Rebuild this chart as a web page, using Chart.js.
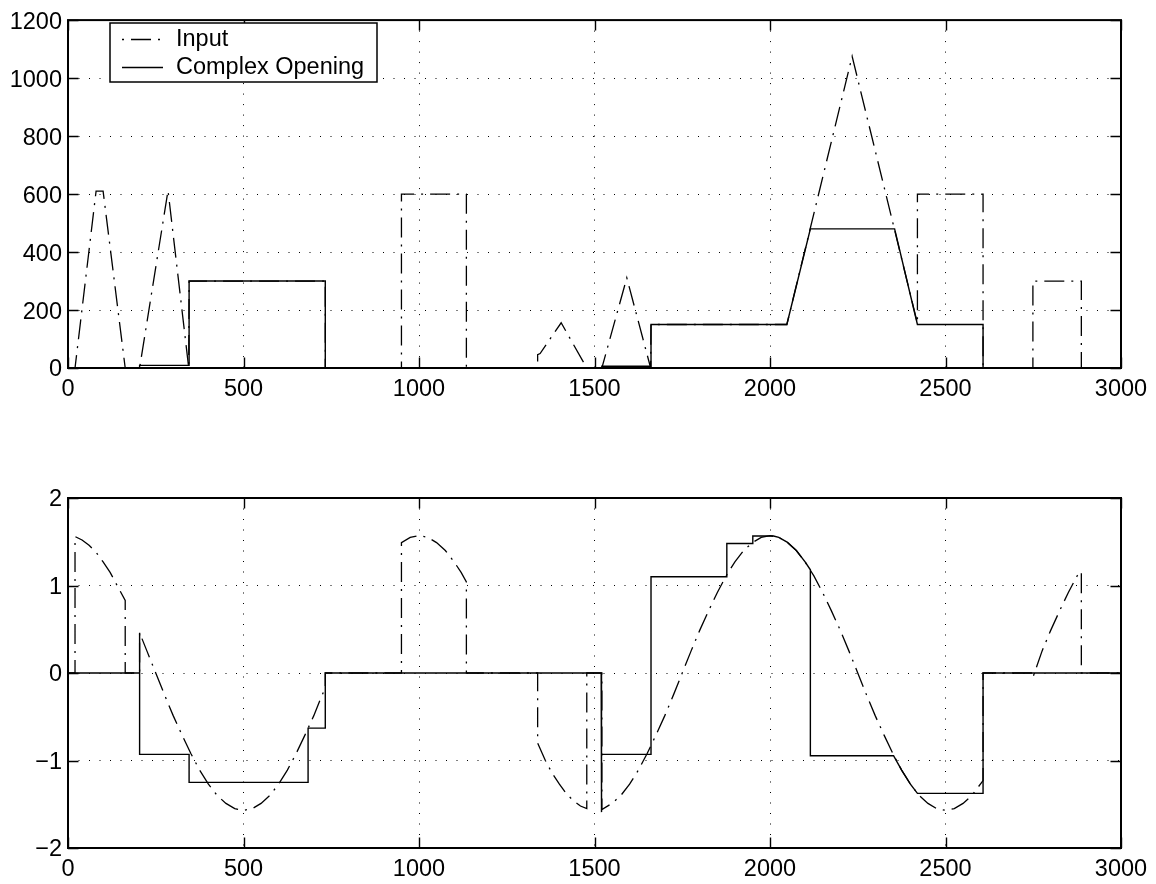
<!DOCTYPE html>
<html>
<head>
<meta charset="utf-8">
<script src="https://cdn.jsdelivr.net/npm/chart.js@4.4.1/dist/chart.umd.min.js"></script>
<style>
  html, body { margin: 0; padding: 0; background: #fff; }
  #wrap { position: relative; width: 1156px; height: 884px; }
  .panel { position: absolute; left: 0; width: 1156px; height: 442px; }
</style>
</head>
<body>
<div id="wrap">
  <div class="panel" style="top:0"><canvas id="magnitude" width="1156" height="442"></canvas></div>
  <div class="panel" style="top:442px"><canvas id="phase" width="1156" height="442"></canvas></div>
</div>
<script>
// ---- tick values ----
const xTicks = [0, 500, 1000, 1500, 2000, 2500, 3000];
const magnitudeTicks = [0, 200, 400, 600, 800, 1000, 1200];
const phaseTicks = [-2, -1, 0, 1, 2];
const seriesNames = ['Input', 'Complex Opening'];

// ---- upper panel: magnitude ----
const magInputX = [0, 20, 80, 100, 163, 204, 285, 344, 345, 733, 733, 950, 950, 1135, 1135,
  1338, 1338, 1345, 1405, 1478, 1521, 1592, 1660, 1661, 2048, 2234, 2420, 2420, 2607, 2607,
  2749, 2749, 2887, 2887, 3000];
const magInputY = [0, 0, 610, 610, 0, 0, 612, 0, 300, 300, 0, 0, 600, 600, 0,
  0, 46, 50, 156, 0, 0, 311, 0, 150, 150, 1075, 154, 600, 600, 0,
  0, 300, 300, 0, 0];

const magOpenX = [0, 204, 204, 345, 345, 733, 733, 1519, 1521, 1661, 1661, 2048, 2115, 2355, 2420, 2607, 2607, 3000];
const magOpenY = [0, 0, 9, 9, 300, 300, 0, 0, 6, 6, 150, 150, 480, 480, 150, 150, 0, 0];

// ---- lower panel: phase ----
const phaseInputX = [0, 20, 20, 40, 60, 80, 100, 120, 140, 163, 163,
  204, 204, 225, 250, 275, 300, 325, 350, 375, 400, 425, 450, 475, 500, 525, 550, 575, 600, 625, 650, 675, 700, 720, 733, 733,
  950, 950, 975, 1000, 1025, 1050, 1075, 1100, 1120, 1135, 1135,
  1338, 1338, 1360, 1380, 1400, 1420, 1440, 1460, 1478, 1478,
  1521, 1521, 1550, 1575, 1600, 1625, 1650, 1675, 1700, 1725, 1750, 1775, 1800, 1825, 1850, 1875, 1900, 1925, 1950, 1975,
  2000, 2025, 2050, 2075, 2100, 2125, 2150, 2175, 2200, 2225, 2250, 2275, 2300, 2325, 2350, 2375, 2400, 2425, 2450, 2475,
  2500, 2525, 2550, 2575, 2607, 2607,
  2749, 2749, 2775, 2800, 2825, 2850, 2875, 2887, 2887, 3000];
const phaseInputY = [0, 0, 1.56, 1.52, 1.46, 1.38, 1.27, 1.15, 1.0, 0.83, 0,
  0, 0.46, 0.25, 0, -0.25, -0.49, -0.71, -0.92, -1.11, -1.27, -1.4, -1.49, -1.55, -1.57, -1.55, -1.49, -1.4, -1.27, -1.11, -0.92, -0.71, -0.49, -0.29, -0.17, 0,
  0, 1.49, 1.55, 1.57, 1.55, 1.49, 1.4, 1.27, 1.15, 1.04, 0,
  0, -0.8, -1.0, -1.15, -1.27, -1.38, -1.46, -1.52, -1.55, 0,
  0, -1.56, -1.49, -1.4, -1.27, -1.11, -0.92, -0.71, -0.49, -0.25, 0, 0.25, 0.49, 0.71, 0.92, 1.11, 1.27, 1.4, 1.49, 1.55,
  1.57, 1.55, 1.49, 1.4, 1.27, 1.11, 0.92, 0.71, 0.49, 0.25, 0, -0.25, -0.49, -0.71, -0.92, -1.11, -1.27, -1.4, -1.49, -1.55,
  -1.57, -1.55, -1.49, -1.4, -1.23, 0,
  0, -0.05, 0.25, 0.49, 0.71, 0.92, 1.11, 1.16, 0, 0];

const phaseOpenX = [0, 204, 204, 204, 345, 345, 684, 684, 733, 733, 1519, 1519, 1521, 1661, 1661, 1877, 1877,
  1951, 1951, 2010, 2025, 2050, 2075, 2100, 2115, 2115, 2352, 2375, 2400, 2420, 2607, 2607, 3000];
const phaseOpenY = [0, 0, 0.46, -0.93, -0.93, -1.25, -1.25, -0.63, -0.63, 0, 0, -1.59, -0.93, -0.93, 1.1, 1.1, 1.48,
  1.48, 1.566, 1.566, 1.551, 1.493, 1.399, 1.27, 1.18, -0.945, -0.945, -1.11, -1.27, -1.376, -1.376, 0, 0];

// ---- drawing ----
const FONT = { family: "'Liberation Sans', Arial, Helvetica, sans-serif", size: 23.5 };
const PANEL_W = 1156, PANEL_H = 442;
const PLOT_LEFT = 68, PLOT_RIGHT = 1121;
const DASH_DOT = [20, 7, 2, 7];

function points(xs, ys) {
  return xs.map((x, i) => ({ x: x, y: ys[i] }));
}

// plain numbers, with a true minus sign for negatives
function tickText(v) {
  return String(v).replace('-', '\u2212');
}

// Closed axes box with inward tick marks on all four sides
const boxAndTicks = {
  id: 'boxAndTicks',
  afterDatasetsDraw(chart) {
    const { ctx, chartArea: a, scales } = chart;
    const len = 10.5;
    ctx.save();
    ctx.setLineDash([]);
    ctx.strokeStyle = '#000';
    ctx.lineWidth = 1.4;
    ctx.beginPath();
    scales.x.ticks.forEach(t => {
      const px = Math.round(scales.x.getPixelForValue(t.value)) + 0.5;
      ctx.moveTo(px, a.bottom); ctx.lineTo(px, a.bottom - len);
      ctx.moveTo(px, a.top); ctx.lineTo(px, a.top + len);
    });
    scales.y.ticks.forEach(t => {
      const py = Math.round(scales.y.getPixelForValue(t.value)) + 0.5;
      ctx.moveTo(a.left, py); ctx.lineTo(a.left + len, py);
      ctx.moveTo(a.right, py); ctx.lineTo(a.right - len, py);
    });
    ctx.stroke();
    ctx.lineWidth = 2;
    ctx.strokeRect(a.left, a.top, a.right - a.left, a.bottom - a.top);
    ctx.restore();
  }
};

// Boxed key in the upper-left corner of the upper panel
const seriesKey = {
  id: 'seriesKey',
  afterDraw(chart, args, opts) {
    if (!opts.show) return;
    const { ctx } = chart;
    const [l, t, r, b] = opts.box;
    ctx.save();
    ctx.fillStyle = '#fff';
    ctx.fillRect(l, t, r - l, b - t);
    ctx.setLineDash([]);
    ctx.lineWidth = 1.5;
    ctx.strokeStyle = '#000';
    ctx.strokeRect(l, t, r - l, b - t);
    chart.data.datasets.forEach((ds, i) => {
      const y = t + opts.firstRow + i * opts.rowGap;
      ctx.beginPath();
      ctx.lineWidth = ds.borderWidth;
      ctx.setLineDash(ds.borderDash || []);
      ctx.lineDashOffset = ds.borderDash ? opts.dashOffset : 0;
      ctx.moveTo(l + opts.lineStart, y + 0.5);
      ctx.lineTo(l + opts.lineEnd, y + 0.5);
      ctx.stroke();
      ctx.setLineDash([]);
      ctx.fillStyle = '#000';
      ctx.font = FONT.size + 'px ' + FONT.family;
      ctx.textBaseline = 'middle';
      ctx.textAlign = 'left';
      ctx.fillText(ds.label, l + opts.textStart, y + 1);
    });
    ctx.restore();
  }
};

function buildPanel(canvasId, inX, inY, openX, openY, yTicks, areaTop, areaBottom, showKey) {
  return new Chart(document.getElementById(canvasId), {
    type: 'line',
    data: {
      datasets: [
        { label: seriesNames[0], data: points(inX, inY), borderColor: '#000', borderWidth: 1.3,
          borderDash: DASH_DOT, order: 1 },
        { label: seriesNames[1], data: points(openX, openY), borderColor: '#000', borderWidth: 1.4,
          order: 0 }
      ]
    },
    options: {
      responsive: false,
      animation: false,
      devicePixelRatio: 1,
      events: [],
      elements: {
        point: { radius: 0 },
        line: { tension: 0, fill: false, borderCapStyle: 'butt', borderJoinStyle: 'miter' }
      },
      layout: { padding: { top: areaTop, right: PANEL_W - PLOT_RIGHT, left: 0, bottom: 0 } },
      plugins: {
        legend: { display: false },
        tooltip: { enabled: false },
        seriesKey: { show: showKey, box: [110, 23, 377, 82], firstRow: 16, rowGap: 28,
                     lineStart: 12, lineEnd: 53, textStart: 66, dashOffset: 27 }
      },
      scales: {
        x: {
          type: 'linear',
          min: xTicks[0],
          max: xTicks[xTicks.length - 1],
          afterBuildTicks: s => { s.ticks = xTicks.map(v => ({ value: v })); },
          afterFit: s => { s.height = PANEL_H - areaBottom; },
          grid: { color: '#000', lineWidth: 1, drawTicks: false },
          border: { display: false, dash: [1, 9.5] },
          ticks: { font: FONT, color: '#000', padding: 7, maxRotation: 0, autoSkip: false,
                   callback: v => tickText(v) }
        },
        y: {
          type: 'linear',
          min: yTicks[0],
          max: yTicks[yTicks.length - 1],
          afterBuildTicks: s => { s.ticks = yTicks.map(v => ({ value: v })); },
          afterFit: s => { s.width = PLOT_LEFT; },
          grid: { color: '#000', lineWidth: 1, drawTicks: false },
          border: { display: false, dash: [1, 9.5] },
          ticks: { font: FONT, color: '#000', padding: 6, autoSkip: false, labelOffset: 2,
                   callback: v => tickText(v) }
        }
      }
    },
    plugins: [boxAndTicks, seriesKey]
  });
}

buildPanel('magnitude', magInputX, magInputY, magOpenX, magOpenY, magnitudeTicks, 17, 368, true);
buildPanel('phase', phaseInputX, phaseInputY, phaseOpenX, phaseOpenY, phaseTicks, 56, 406, false);
</script>
</body>
</html>
